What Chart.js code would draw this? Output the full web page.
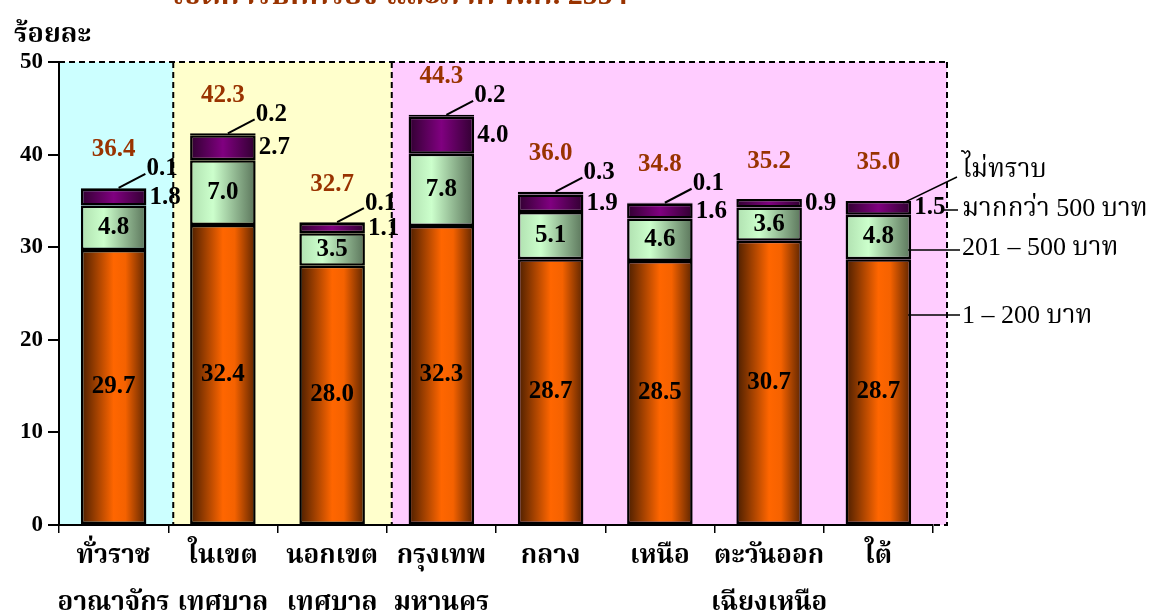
<!DOCTYPE html>
<html>
<head>
<meta charset="utf-8">
<script src="https://cdn.jsdelivr.net/npm/chart.js@4"></script>
<style>
  body { margin: 0; background: #fff; }
  canvas { display: block; }
</style>
</head>
<body>
<canvas id="spendChart" width="1155" height="615"></canvas>
<script>
const categories = [
  ["ทั่วราช", "อาณาจักร"],
  ["ในเขต", "เทศบาล"],
  ["นอกเขต", "เทศบาล"],
  ["กรุงเทพ", "มหานคร"],
  ["กลาง"],
  ["เหนือ"],
  ["ตะวันออก", "เฉียงเหนือ"],
  ["ใต้"],
];
const seriesNames = ["1 – 200 บาท", "201 – 500 บาท", "มากกว่า 500 บาท", "ไม่ทราบ"];
const lowValues = [29.7, 32.4, 28.0, 32.3, 28.7, 28.5, 30.7, 28.7];
const midValues = [4.8, 7.0, 3.5, 7.8, 5.1, 4.6, 3.6, 4.8];
const highValues = [1.8, 2.7, 1.1, 4.0, 1.9, 1.6, 0.9, 1.5];
const unknownValues = [0.1, 0.2, 0.1, 0.2, 0.3, 0.1, 0, 0];
const totals = [36.4, 42.3, 32.7, 44.3, 36.0, 34.8, 35.2, 35.0];
const yTicks = [0, 10, 20, 30, 40, 50];

const numFont = "'Liberation Serif', 'Times New Roman', serif";
const thaiFont = "'Liberation Serif', 'Noto Serif Thai', 'Noto Sans Thai', 'Norasi', 'Loma', serif";
const brown = "#993300";

// cylinder-like shading across each bar
function barGradient(context, stops) {
  const chart = context.chart;
  const x = chart.scales.x;
  if (!x || context.dataIndex === undefined) return stops[1][1];
  const c = x.getPixelForValue(context.dataIndex);
  const half = (x.getPixelForValue(1) - x.getPixelForValue(0)) * 0.3;
  if (!isFinite(c) || !isFinite(half)) return stops[1][1];
  const g = chart.ctx.createLinearGradient(c - half, 0, c + half, 0);
  stops.forEach((s) => g.addColorStop(s[0], s[1]));
  return g;
}

const orangeStops = [[0, "#4a1e00"], [0.5, "#ff6600"], [0.68, "#f56200"], [1, "#5a2400"]];
const greenStops = [[0, "#b0e0b0"], [0.35, "#ccffcc"], [1, "#5a745a"]];
const purpleStops = [[0, "#300030"], [0.5, "#800080"], [1, "#300030"]];

// coloured zones with dashed borders
const zonesPlugin = {
  id: "zones",
  beforeDraw(chart) {
    const { ctx, chartArea, scales } = chart;
    const x = scales.x;
    const y = scales.y;
    const top = y.getPixelForValue(50);
    const bottom = y.getPixelForValue(0);
    const left = chartArea.left;
    const d1 = (x.getPixelForValue(0) + x.getPixelForValue(1)) / 2 + 5;
    const d2 = (x.getPixelForValue(2) + x.getPixelForValue(3)) / 2 + 5;
    const right = chartArea.right + 14;
    ctx.save();
    ctx.fillStyle = "#ccffff";
    ctx.fillRect(left, top, d1 - left, bottom - top);
    ctx.fillStyle = "#ffffcc";
    ctx.fillRect(d1, top, d2 - d1, bottom - top);
    ctx.fillStyle = "#ffccff";
    ctx.fillRect(d2, top, right - d2, bottom - top);
    ctx.strokeStyle = "#000";
    ctx.lineWidth = 2;
    ctx.setLineDash([6, 4]);
    ctx.beginPath();
    ctx.moveTo(left, top);
    ctx.lineTo(right, top);
    ctx.moveTo(d1, top);
    ctx.lineTo(d1, bottom);
    ctx.moveTo(d2, top);
    ctx.lineTo(d2, bottom);
    ctx.moveTo(right, top);
    ctx.lineTo(right, bottom);
    ctx.lineTo(chartArea.right, bottom);
    ctx.stroke();
    ctx.restore();
  },
};

const labelsPlugin = {
  id: "barLabels",
  afterDatasetsDraw(chart) {
    const ctx = chart.ctx;
    const m = [0, 1, 2, 3].map((i) => chart.getDatasetMeta(i).data);
    ctx.save();
    ctx.font = "bold 25px " + numFont;
    ctx.textBaseline = "middle";
    categories.forEach((_, i) => {
      const low = m[0][i], mid = m[1][i], high = m[2][i], unk = m[3][i];
      const rightEdge = low.x + low.width / 2;
      ctx.fillStyle = "#000";
      ctx.textAlign = "center";
      ctx.fillText(lowValues[i].toFixed(1), low.x, (low.y + low.base) / 2);
      ctx.fillText(midValues[i].toFixed(1), mid.x, (mid.y + mid.base) / 2);
      ctx.textAlign = "left";
      ctx.fillText(highValues[i].toFixed(1), rightEdge + 3, (high.y + high.base) / 2);
      const top = unk.y;
      if (unknownValues[i] > 0) {
        ctx.fillText(unknownValues[i].toFixed(1), rightEdge, top - 19);
        ctx.strokeStyle = "#000";
        ctx.lineWidth = 2;
        ctx.beginPath();
        ctx.moveTo(low.x + 5, top);
        ctx.lineTo(rightEdge - 1, top - 14);
        ctx.stroke();
      }
      ctx.fillStyle = brown;
      ctx.textAlign = "center";
      ctx.fillText(totals[i].toFixed(1), low.x, top - 38);
    });
    ctx.restore();
  },
  afterDraw(chart) {
    const ctx = chart.ctx;
    const last = categories.length - 1;
    const bar = chart.getDatasetMeta(0).data[last];
    const unk = chart.getDatasetMeta(3).data[last];
    const rightEdge = bar.x + bar.width / 2;
    const textX = 962;
    ctx.save();
    ctx.strokeStyle = "#000";
    ctx.lineWidth = 1.5;
    ctx.beginPath();
    // ไม่ทราบ
    ctx.moveTo(bar.x + 25, unk.y + 2);
    ctx.lineTo(957, 177);
    // มากกว่า 500
    ctx.moveTo(rightEdge + 31, 210);
    ctx.lineTo(958, 210);
    // 201 - 500
    ctx.moveTo(rightEdge - 3, 250);
    ctx.lineTo(960, 250);
    // 1 - 200
    ctx.moveTo(rightEdge - 3, 315);
    ctx.lineTo(960, 315);
    ctx.stroke();
    ctx.fillStyle = "#000";
    ctx.font = "26px " + thaiFont;
    ctx.textAlign = "left";
    ctx.textBaseline = "middle";
    ctx.fillText(seriesNames[3], textX, 170);
    ctx.fillText(seriesNames[2], textX, 209);
    ctx.fillText(seriesNames[1], textX, 248);
    ctx.fillText(seriesNames[0], textX, 316);

    // y axis title
    ctx.font = "bold 27px " + thaiFont;
    ctx.textBaseline = "alphabetic";
    ctx.fillText("ร้อยละ", 14, 42);

    // title, cut off at the top edge
    ctx.fillStyle = brown;
    ctx.font = "bold 30px " + thaiFont;
    ctx.fillText("เขตการปกครอง และภาค พ.ศ. 2554", 172, 4, 484);
    ctx.restore();
  },
};

const chart = new Chart(document.getElementById("spendChart"), {
  type: "bar",
  data: {
    labels: categories,
    datasets: [
      {
        label: seriesNames[0],
        data: lowValues,
        backgroundColor: (c) => barGradient(c, orangeStops),
      },
      {
        label: seriesNames[1],
        data: midValues,
        backgroundColor: (c) => barGradient(c, greenStops),
      },
      {
        label: seriesNames[2],
        data: highValues,
        backgroundColor: (c) => barGradient(c, purpleStops),
      },
      {
        label: seriesNames[3],
        data: unknownValues,
        backgroundColor: "#200020",
      },
    ].map((d) => Object.assign(d, {
      borderColor: "#000",
      borderWidth: 2.5,
      borderSkipped: false,
      inflateAmount: 0,
      barPercentage: 0.6,
      categoryPercentage: 1,
    })),
  },
  options: {
    responsive: false,
    animation: false,
    layout: { padding: { top: 62, right: 222, left: 0, bottom: 0 } },
    plugins: {
      legend: { display: false },
      tooltip: { enabled: false },
    },
    scales: {
      x: {
        stacked: true,
        afterFit: (s) => { s.height = 90; },
        grid: {
          offset: true,
          drawOnChartArea: false,
          tickLength: 8,
          tickColor: "#000",
          lineWidth: 1.5,
        },
        border: { color: "#000", width: 2 },
        ticks: {
          color: "#000",
          padding: 0,
          autoSkip: false,
          maxRotation: 0,
          minRotation: 0,
          font: { family: thaiFont, size: 26, weight: "bold", lineHeight: 1.8 },
        },
      },
      y: {
        stacked: true,
        min: 0,
        max: 50,
        afterFit: (s) => { s.width = 59; },
        afterBuildTicks: (s) => { s.ticks = yTicks.map((v) => ({ value: v })); },
        grid: {
          drawOnChartArea: false,
          tickLength: 11,
          tickColor: "#000",
          lineWidth: 2,
        },
        border: { color: "#000", width: 2 },
        ticks: {
          color: "#000",
          padding: 5,
          font: { family: numFont, size: 23, weight: "bold" },
        },
      },
    },
  },
  plugins: [zonesPlugin, labelsPlugin],
});
</script>
</body>
</html>
